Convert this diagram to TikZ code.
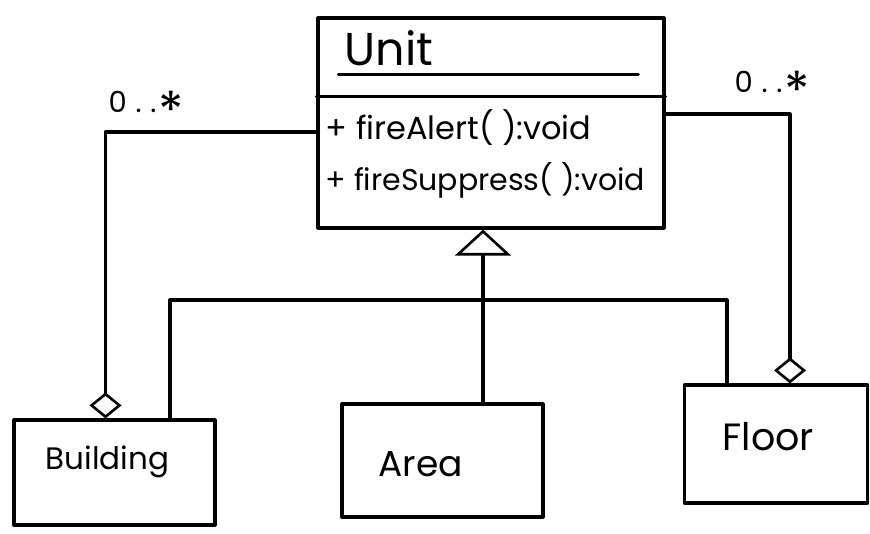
\documentclass[tikz,border=0pt]{standalone}
\usepackage{fontspec}
\usepackage{graphicx}
\setmainfont{Poppins}
\usetikzlibrary{arrows.meta,calc}
\newcommand{\fs}[1]{\fontsize{#1}{#1}\selectfont}
\newcommand{\bigstar}{\hspace{2pt}\raisebox{-1.05ex}{\scalebox{1.8}{*}}}
\begin{document}
\begin{tikzpicture}[x=1pt,y=-1pt,
  line width=3.2pt, line join=round, line cap=round,
  classbox/.style={draw, rectangle, inner sep=0pt, anchor=center},
  label/.style={inner sep=0pt, anchor=west},
  mult/.style={inner sep=0pt, anchor=west, font=\fs{29}\addfontfeature{LetterSpace=30}},
  aggr/.style={{Diamond[open, length=26pt, width=32pt, line width=2.6pt]}-},
  gen/.style={-{Triangle[open, length=26pt, width=56pt, line width=2.6pt]}}
]
\useasboundingbox (0,0) rectangle (870,534);

% the Unit class with its name and operations compartments
\node[classbox, minimum width=346pt, minimum height=210pt] (unit) at (491,123) {};
\node[label, font=\fs{46}] (unitname) at (343,48) {Unit};
\draw (unit.north west) ++(22,58) coordinate (tl) -- ++(300,0) coordinate (tr);
\draw (unit.north west) ++(0,80) coordinate (dl) -- (dl -| unit.east);
\node[label, font=\fs{32}] (op1) at (324,128) {+ fireAlert( ):void};
\node[label, font=\fs{30}] (op2) at (324,180) {+ fireSuppress( ):void};

% subclasses
\node[classbox, minimum width=201pt, minimum height=105pt] (building) at (114.5,472.5) {};
\node[label, font=\fs{31}] (buildingname) at (44,462) {Building};
\node[classbox, minimum width=201pt, minimum height=113pt] (area) at (442.5,460.5) {};
\node[label, font=\fs{36}] (areaname) at (377,464) {Area};
\node[classbox, minimum width=183pt, minimum height=118pt] (floor) at (776,444) {};
\node[label, font=\fs{38}] (floorname) at (721,437) {Floor};

% generalization tree
\coordinate (apex) at ([xshift=-8pt]unit.south);
\draw[gen] (area.north -| apex) -- (apex);
\coordinate (bus) at (apex |- 0,300);
\draw ([xshift=55.5pt]building.north) |- (bus) -| ([xshift=-49pt]floor.north);

% aggregations with multiplicities
\coordinate (bend) at ([xshift=-9pt]building.north);
\coordinate (lturn) at (bend |- 0,132);
\draw[aggr] (bend) -- (lturn) -- (lturn -| unit.west);
\node[mult] (lmult) at (107,110) {0..\bigstar};

\coordinate (fend) at ([xshift=14pt]floor.north);
\coordinate (rturn) at (fend |- 0,114);
\draw[aggr] (fend) -- (rturn) -- (rturn -| unit.east);
\node[mult] (rmult) at (733,90) {0..\bigstar};
\end{tikzpicture}
\end{document}
